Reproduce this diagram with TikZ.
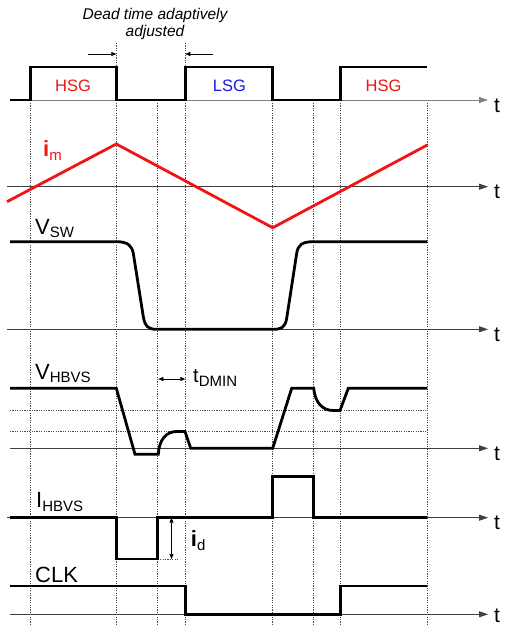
\documentclass[tikz,border=0pt]{standalone}
\usepackage{fontspec}
\setmainfont{Liberation Sans}
\usetikzlibrary{arrows.meta}
\definecolor{sigred}{RGB}{240,20,20}
\definecolor{sigblue}{RGB}{25,25,230}
\newcommand\lowsub[1]{\raisebox{-0.18em}{\fontsize{15}{15}\selectfont #1}}
\begin{document}
\begin{tikzpicture}[x=1pt,y=-1pt,
 wave/.style={line width=2.8pt, line join=miter},
 axisline/.style={line width=0.8pt, draw=black!75, -{Triangle[length=9pt,width=6pt]}},
 guide/.style={line width=0.6pt, draw=black!70, dash pattern=on 1.2pt off 1.2pt},
 siglabel/.style={anchor=base west, inner sep=0pt, font=\fontsize{22}{26}\selectfont},
 tlabel/.style={anchor=base west, inner sep=0pt, font=\fontsize{21}{24}\selectfont},
 gatelabel/.style={anchor=base, inner sep=0pt, font=\fontsize{16.5}{19}\selectfont},
 smallarrow/.style={line width=0.6pt, -{Triangle[length=5pt,width=4pt]}},
 dblarrow/.style={line width=0.6pt, {Triangle[length=5pt,width=4pt]}-{Triangle[length=5pt,width=4pt]}},
]
\useasboundingbox (0,0) rectangle (504,626);
% vertical guide lines
\foreach \gx in {30.3,116.3,157.7,185.3,272.7,313.7,340.7,427.3}
  \draw[guide] (\gx,103) -- (\gx,626);
\draw[guide] (116.3,43) -- (116.3,67);
\draw[guide] (185.3,43) -- (185.3,67);
% horizontal guide lines of V_HBVS
\draw[guide] (10,410.5) -- (427.3,410.5);
\draw[guide] (10,431.5) -- (427.3,431.5);
\draw[guide] (157.7,559) -- (179,559);
% axes
\coordinate (a1s) at (10,100);   \coordinate (a1e) at (488,100);
\coordinate (a2s) at (7,186.7);  \coordinate (a2e) at (488,186.7);
\coordinate (a3s) at (7,329.3);  \coordinate (a3e) at (488,329.3);
\coordinate (a4s) at (10,448.3); \coordinate (a4e) at (488,448.3);
\coordinate (a5s) at (7,517.7);  \coordinate (a5e) at (488,517.7);
\coordinate (a6s) at (10,614.3); \coordinate (a6e) at (488,614.3);
\draw[axisline, draw=black!50] (a1s) -- (a1e);
\draw[axisline] (a2s) -- (a2e);
\draw[axisline] (a3s) -- (a3e);
\draw[axisline] (a4s) -- (a4e);
\draw[axisline] (a5s) -- (a5e);
\draw[axisline] (a6s) -- (a6e);
\node[tlabel] (t1) at (494,112) {t};
\node[tlabel] (t2) at (494,198.5) {t};
\node[tlabel] (t3) at (494,341) {t};
\node[tlabel] (t4) at (494,460) {t};
\node[tlabel] (t5) at (494,529.5) {t};
\node[tlabel] (t6) at (494,622) {t};
% gate signal
\draw[wave] (10,100) -- (30.3,100) -- (30.3,67) -- (116.3,67) -- (116.3,100) -- (185.3,100) -- (185.3,67) -- (272.7,67) -- (272.7,100) -- (340.7,100) -- (340.7,67) -- (427.3,67);
\node[gatelabel, text=sigred] (hsg1) at (73,92) {HSG};
\node[gatelabel, text=sigblue] (lsg) at (229.5,92) {LSG};
\node[gatelabel, text=sigred] (hsg2) at (383.5,92) {HSG};
% dead time
\node[anchor=north, inner sep=0pt, align=center, font=\fontsize{15.5}{17}\selectfont\itshape] (dead) at (155,8.5) {Dead time adaptively\\adjusted};
\coordinate (dtL0) at (88,54);  \coordinate (dtL1) at (116.3,54);
\coordinate (dtR0) at (213,54); \coordinate (dtR1) at (185.3,54);
\draw[smallarrow] (dtL0) -- (dtL1);
\draw[smallarrow] (dtR0) -- (dtR1);
% i_m
\draw[wave, draw=sigred] (7,201.7) -- (116.3,144) -- (272.7,227.7) -- (427.3,145);
\node[siglabel, text=sigred] (lim) at (43,156.7) {\textbf{i}\lowsub{m}};
% V_SW
\draw[wave] (10,241.7) -- (116.7,241.7) .. controls (128,241.7) and (132,246) .. (133.3,253.3) -- (143.3,316.7) .. controls (145,327) and (149,329.3) .. (156.7,329.3) -- (272.7,329.3) .. controls (281,329.3) and (285,328) .. (286.7,318.3) -- (296.7,253.3) .. controls (298,245) and (302,241.7) .. (313.3,241.7) -- (427.3,241.7);
\node[siglabel] (lvsw) at (35,234) {V\lowsub{SW}};
% V_HBVS
\draw[wave] (10,388.3) -- (116.3,388.3) -- (135,454.3) -- (158.3,454.3) .. controls (159,440) and (166,431.5) .. (176.7,431.5) -- (185,431.5) -- (190.7,448.3) -- (272.7,448.3) -- (291.7,388.3) -- (313.7,388.3) .. controls (315,402) and (322,410.5) .. (333.3,410.5) -- (340,410.5) -- (348.3,388.3) -- (427.3,388.3);
\node[siglabel] (lvhbvs) at (35,379) {V\lowsub{HBVS}};
\coordinate (td0) at (158.3,379); \coordinate (td1) at (185.3,379);
\draw[dblarrow] (td0) -- (td1);
\node[siglabel, font=\fontsize{20}{22}\selectfont] (ltdmin) at (193,382.7) {t\lowsub{DMIN}};
% I_HBVS
\draw[wave] (10,517.7) -- (116.3,517.7) -- (116.3,559) -- (157.7,559) -- (157.7,517.7) -- (272.7,517.7) -- (272.7,476.7) -- (313.7,476.7) -- (313.7,517.7) -- (427.3,517.7);
\node[siglabel] (lihbvs) at (36,507.3) {I\lowsub{HBVS}};
\coordinate (id0) at (171.5,517.7); \coordinate (id1) at (171.5,559);
\draw[dblarrow] (id0) -- (id1);
\node[siglabel] (lid) at (190.7,546.7) {\textbf{i}\lowsub{d}};
% CLK
\draw[wave] (10,586) -- (185.3,586) -- (185.3,614.3) -- (340.7,614.3) -- (340.7,586) -- (427.3,586);
\node[siglabel] (lclk) at (35,582.3) {CLK};
\end{tikzpicture}
\end{document}
